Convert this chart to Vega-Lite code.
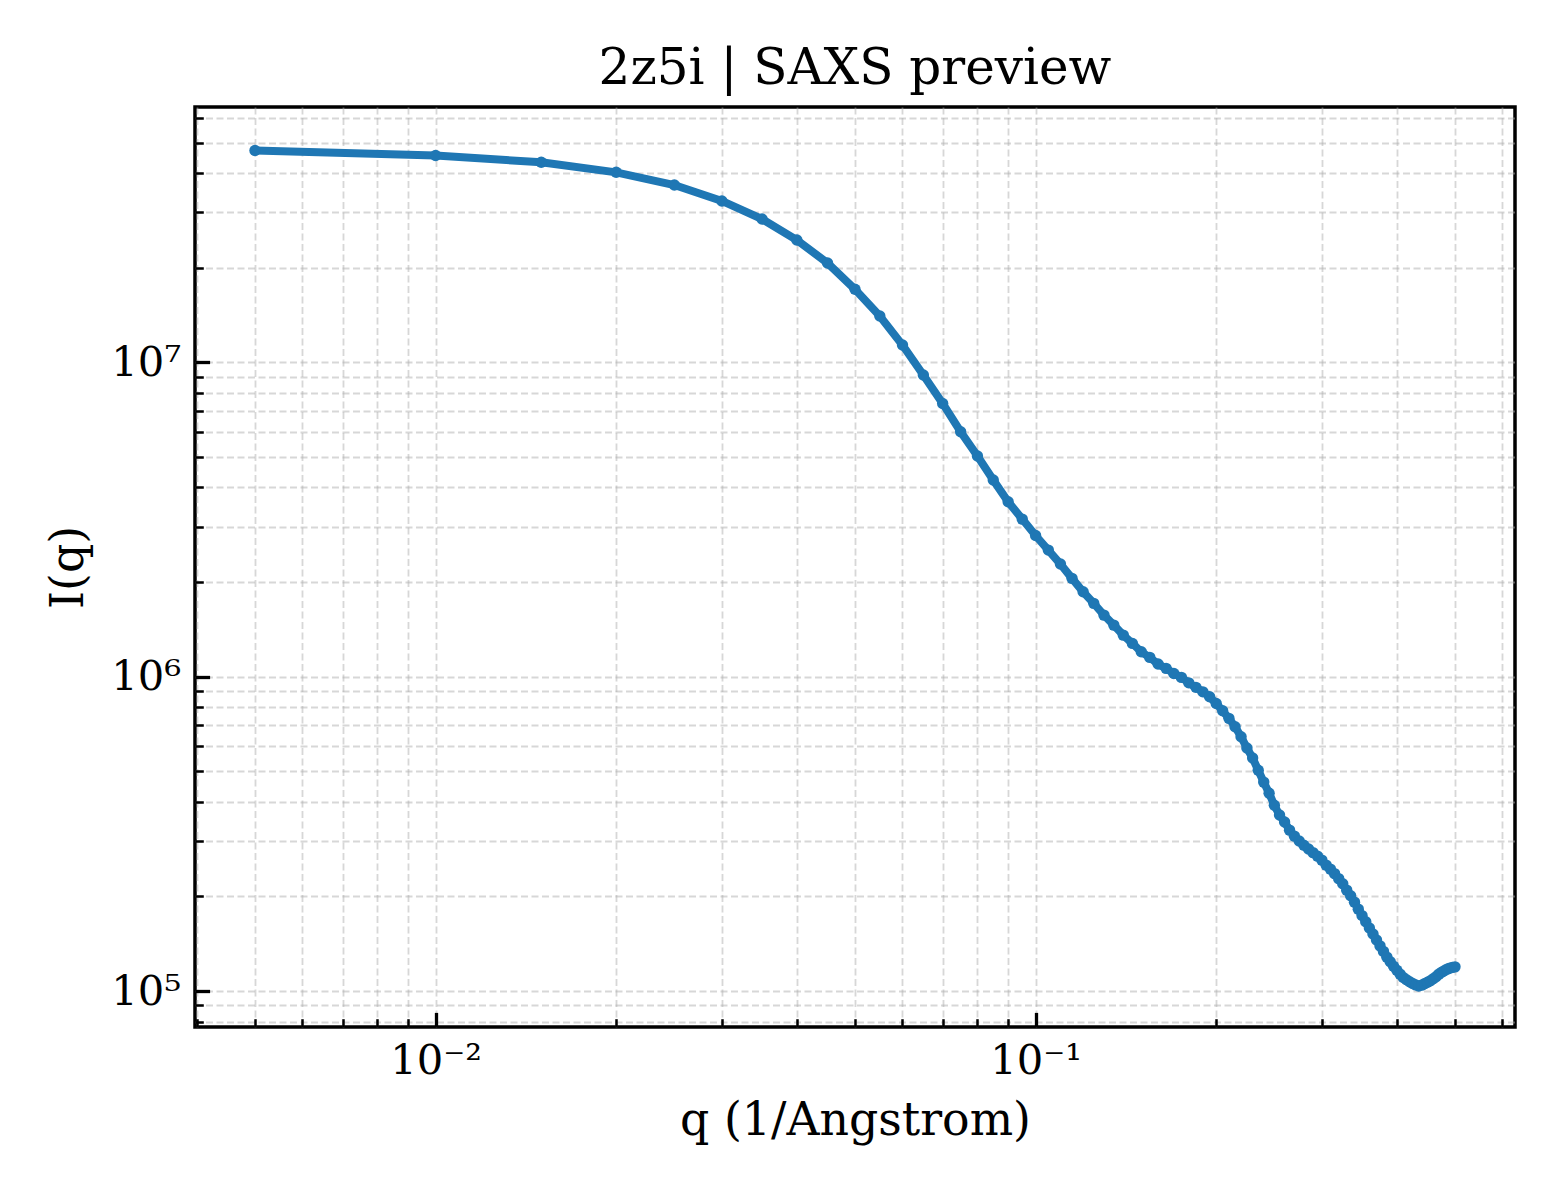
{
  "$schema": "https://vega.github.io/schema/vega-lite/v6.json",
  "description": "SAXS preview curve for 2z5i on log-log axes",
  "width": 1320,
  "height": 920,
  "autosize": {"type": "none"},
  "padding": {"left": 195, "top": 107, "right": 45, "bottom": 173},
  "background": "white",
  "title": {
    "text": "2z5i | SAXS preview",
    "font": "DejaVu Serif",
    "fontSize": 50,
    "fontWeight": "normal",
    "color": "black",
    "baseline": "alphabetic",
    "offset": 22,
    "dy": 58
  },
  "config": {
    "view": {"stroke": "black", "strokeWidth": 3.5},
    "axis": {
      "domain": false,
      "grid": true,
      "gridDash": [7, 3.5],
      "gridColor": "#b0b0b0",
      "gridOpacity": 0.5,
      "gridWidth": 1.8,
      "tickColor": "black",
      "labelFont": "DejaVu Serif",
      "labelFontSize": 41.7,
      "labelColor": "black",
      "labelOverlap": false,
      "labelFlush": false,
      "labelBound": false,
      "titleFont": "DejaVu Serif",
      "titleFontSize": 45.8,
      "titleFontWeight": "normal",
      "titleColor": "black"
    }
  },
  "data": {
    "values": [
      {"q": 0.005, "I": 47200000}, {"q": 0.01, "I": 45500000}, {"q": 0.015, "I": 43280000},
      {"q": 0.02, "I": 40220000}, {"q": 0.025, "I": 36650000}, {"q": 0.03, "I": 32610000},
      {"q": 0.035, "I": 28570000}, {"q": 0.04, "I": 24490000}, {"q": 0.045, "I": 20700000},
      {"q": 0.05, "I": 17080000}, {"q": 0.055, "I": 14040000}, {"q": 0.06, "I": 11350000},
      {"q": 0.065, "I": 9110000}, {"q": 0.07, "I": 7400000}, {"q": 0.075, "I": 6015000},
      {"q": 0.08, "I": 5033000}, {"q": 0.085, "I": 4222000}, {"q": 0.09, "I": 3601000},
      {"q": 0.095, "I": 3172000}, {"q": 0.1, "I": 2812000}, {"q": 0.105, "I": 2528000},
      {"q": 0.11, "I": 2282000}, {"q": 0.115, "I": 2055000}, {"q": 0.12, "I": 1862000},
      {"q": 0.125, "I": 1711000}, {"q": 0.13, "I": 1570000}, {"q": 0.135, "I": 1459000},
      {"q": 0.14, "I": 1356000}, {"q": 0.145, "I": 1276000}, {"q": 0.15, "I": 1200000},
      {"q": 0.155, "I": 1152000}, {"q": 0.16, "I": 1097000}, {"q": 0.165, "I": 1063000},
      {"q": 0.17, "I": 1024000}, {"q": 0.175, "I": 995000}, {"q": 0.18, "I": 956000},
      {"q": 0.185, "I": 925000}, {"q": 0.19, "I": 895000}, {"q": 0.195, "I": 863000},
      {"q": 0.2, "I": 822000}, {"q": 0.205, "I": 779000}, {"q": 0.21, "I": 737000},
      {"q": 0.215, "I": 693000}, {"q": 0.22, "I": 644000}, {"q": 0.225, "I": 593000},
      {"q": 0.23, "I": 551000}, {"q": 0.235, "I": 504000}, {"q": 0.24, "I": 462000},
      {"q": 0.245, "I": 426000}, {"q": 0.25, "I": 390000}, {"q": 0.255, "I": 363000},
      {"q": 0.26, "I": 345000}, {"q": 0.265, "I": 325000}, {"q": 0.27, "I": 311000},
      {"q": 0.275, "I": 300000}, {"q": 0.28, "I": 291000}, {"q": 0.285, "I": 283000},
      {"q": 0.29, "I": 275600}, {"q": 0.295, "I": 268700}, {"q": 0.3, "I": 260900},
      {"q": 0.305, "I": 251500}, {"q": 0.31, "I": 244300}, {"q": 0.315, "I": 236300},
      {"q": 0.32, "I": 227800}, {"q": 0.325, "I": 219600}, {"q": 0.33, "I": 209400},
      {"q": 0.335, "I": 201100}, {"q": 0.34, "I": 191800}, {"q": 0.345, "I": 182200},
      {"q": 0.35, "I": 173800}, {"q": 0.355, "I": 166100}, {"q": 0.36, "I": 158800},
      {"q": 0.365, "I": 151900}, {"q": 0.37, "I": 145400}, {"q": 0.375, "I": 139200},
      {"q": 0.38, "I": 133700}, {"q": 0.385, "I": 128200}, {"q": 0.39, "I": 124000},
      {"q": 0.395, "I": 120000}, {"q": 0.4, "I": 116500}, {"q": 0.405, "I": 113200},
      {"q": 0.41, "I": 110500}, {"q": 0.415, "I": 108700}, {"q": 0.42, "I": 107100},
      {"q": 0.425, "I": 105700}, {"q": 0.43, "I": 104600}, {"q": 0.435, "I": 103800},
      {"q": 0.44, "I": 104400}, {"q": 0.445, "I": 105600}, {"q": 0.45, "I": 106700},
      {"q": 0.455, "I": 107900}, {"q": 0.46, "I": 109500}, {"q": 0.465, "I": 111100},
      {"q": 0.47, "I": 113200}, {"q": 0.475, "I": 114800}, {"q": 0.48, "I": 116100},
      {"q": 0.485, "I": 117400}, {"q": 0.49, "I": 118300}, {"q": 0.495, "I": 118900},
      {"q": 0.5, "I": 119400}
    ]
  },
  "mark": {
    "type": "line",
    "color": "#1f77b4",
    "strokeWidth": 8,
    "point": {"filled": true, "size": 130, "color": "#1f77b4"}
  },
  "encoding": {
    "x": {
      "field": "q",
      "type": "quantitative",
      "title": "q (1/Angstrom)",
      "scale": {"type": "log", "domain": [0.003972, 0.6295], "nice": false},
      "axis": {
        "values": [0.004, 0.005, 0.006, 0.007, 0.008, 0.009, 0.01, 0.02, 0.03, 0.04, 0.05, 0.06, 0.07, 0.08, 0.09, 0.1, 0.2, 0.3, 0.4, 0.5, 0.6],
        "labelExpr": "datum.value == 0.01 ? '10⁻²' : datum.value == 0.1 ? '10⁻¹' : ''",
        "tickSize": {"condition": {"test": "datum.value == 0.01 || datum.value == 0.1", "value": -14.6}, "value": -8.3},
        "tickWidth": {"condition": {"test": "datum.value == 0.01 || datum.value == 0.1", "value": 3.3}, "value": 2.5},
        "labelPadding": 28,
        "titlePadding": 10
      }
    },
    "y": {
      "field": "I",
      "type": "quantitative",
      "title": "I(q)",
      "scale": {"type": "log", "domain": [76850, 64900000], "nice": false},
      "axis": {
        "values": [80000, 90000, 100000, 200000, 300000, 400000, 500000, 600000, 700000, 800000, 900000, 1000000, 2000000, 3000000, 4000000, 5000000, 6000000, 7000000, 8000000, 9000000, 10000000, 20000000, 30000000, 40000000, 50000000, 60000000],
        "labelExpr": "datum.value == 100000 ? '10⁵' : datum.value == 1000000 ? '10⁶' : datum.value == 10000000 ? '10⁷' : ''",
        "tickSize": {"condition": {"test": "datum.value == 100000 || datum.value == 1000000 || datum.value == 10000000", "value": -14.6}, "value": -8.3},
        "tickWidth": {"condition": {"test": "datum.value == 100000 || datum.value == 1000000 || datum.value == 10000000", "value": 3.3}, "value": 2.5},
        "labelPadding": 29,
        "titlePadding": 18
      }
    }
  }
}
